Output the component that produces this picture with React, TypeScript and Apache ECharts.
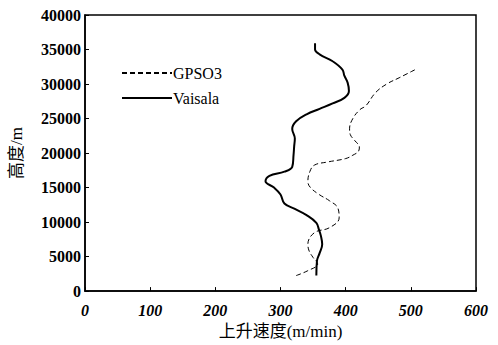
import React, { useEffect, useRef } from "react";
import * as echarts from "echarts";

const xTicks = [0, 100, 200, 300, 400, 500, 600];
const yTicks = [0, 5000, 10000, 15000, 20000, 25000, 30000, 35000, 40000];

// [speed m/min, height m]
const gpso3: [number, number][] = [
  [324, 2250], [342, 2960], [357, 3910], [350, 4870], [344, 5800], [342, 6780],
  [352, 8460], [375, 9180], [390, 10610], [388, 12040], [375, 13100], [360, 13950],
  [346, 15000], [342, 15870], [345, 17300], [352, 18250], [372, 18700], [400, 19200],
  [411, 19690], [420, 20300], [421, 20900], [414, 21800], [407, 22700], [406, 23510],
  [411, 25000], [422, 26300], [431, 26850], [446, 28770], [463, 30000], [482, 30900],
  [507, 32100],
];

const vaisala: [number, number][] = [
  [355, 2250], [356, 4400], [360, 5500], [364, 6780], [362, 8000], [359, 8900],
  [355, 9890], [340, 11000], [322, 11900], [306, 12700], [300, 14000], [290, 15000],
  [277, 15900], [283, 16700], [306, 17300], [318, 18000], [320, 19700], [321, 21000],
  [322, 22100], [318, 23500], [324, 24600], [340, 25600], [360, 26400], [380, 27200],
  [398, 28000], [405, 29000], [403, 30200], [398, 31200], [395, 32100], [380, 33300],
  [360, 34300], [353, 35000], [353, 35900],
];

const FONT = "'Liberation Serif', 'Noto Sans CJK SC', serif";

export default function App() {
  const ref = useRef<HTMLDivElement>(null);
  useEffect(() => {
    if (!ref.current) return;
    const chart = echarts.init(ref.current, undefined, { renderer: "svg" });
    chart.setOption({
      animation: false,
      backgroundColor: "#fff",
      grid: {
        left: 81, right: 22, top: 15, bottom: 51,
        show: true, borderColor: "#000", borderWidth: 1.5,
      },
      legend: {
        left: 116, top: 60, orient: "vertical",
        itemWidth: 50, itemHeight: 14, itemGap: 9,
        itemStyle: { opacity: 0 },
        textStyle: { fontFamily: FONT, fontSize: 16, color: "#000", padding: [0, 0, 0, -4] },
        data: ["GPSO3", "Vaisala"],
      },
      xAxis: {
        type: "value", min: 0, max: 600, interval: 100,
        name: "上升速度(m/min)", nameLocation: "middle", nameGap: 28,
        nameTextStyle: { fontFamily: FONT, fontSize: 17, color: "#000" },
        axisLine: { lineStyle: { color: "#000", width: 1.5 } },
        axisTick: { inside: true, length: 4, lineStyle: { color: "#000" } },
        axisLabel: {
          fontFamily: FONT, fontSize: 16, fontStyle: "italic", fontWeight: "bold",
          color: "#000", margin: 11,
          formatter: (v: number) => (xTicks.includes(v) ? String(v) : ""),
        },
        splitLine: { show: false },
      },
      yAxis: {
        type: "value", min: 0, max: 40000, interval: 5000,
        name: "高度/m", nameLocation: "middle", nameGap: 60,
        nameTextStyle: { fontFamily: FONT, fontSize: 17, color: "#000" },
        axisLine: { lineStyle: { color: "#000", width: 1.5 } },
        axisTick: { inside: true, length: 4, lineStyle: { color: "#000" } },
        axisLabel: {
          fontFamily: FONT, fontSize: 16, fontWeight: "bold", color: "#000", margin: 4,
          formatter: (v: number) => (yTicks.includes(v) ? String(v) : ""),
        },
        splitLine: { show: false },
      },
      series: [
        {
          name: "GPSO3", type: "line", data: gpso3, smooth: 0.4, symbol: "none",
          lineStyle: { color: "#000", width: 1, type: [5, 3] },
          itemStyle: { color: "#000" },
        },
        {
          name: "Vaisala", type: "line", data: vaisala, smooth: 0.4, symbol: "none",
          lineStyle: { color: "#000", width: 2 },
          itemStyle: { color: "#000" },
        },
      ],
    });
    return () => chart.dispose();
  }, []);
  return (
    <div
      ref={ref}
      style={{ position: "fixed", left: 0, top: 0, width: 498, height: 345 }}
    />
  );
}
